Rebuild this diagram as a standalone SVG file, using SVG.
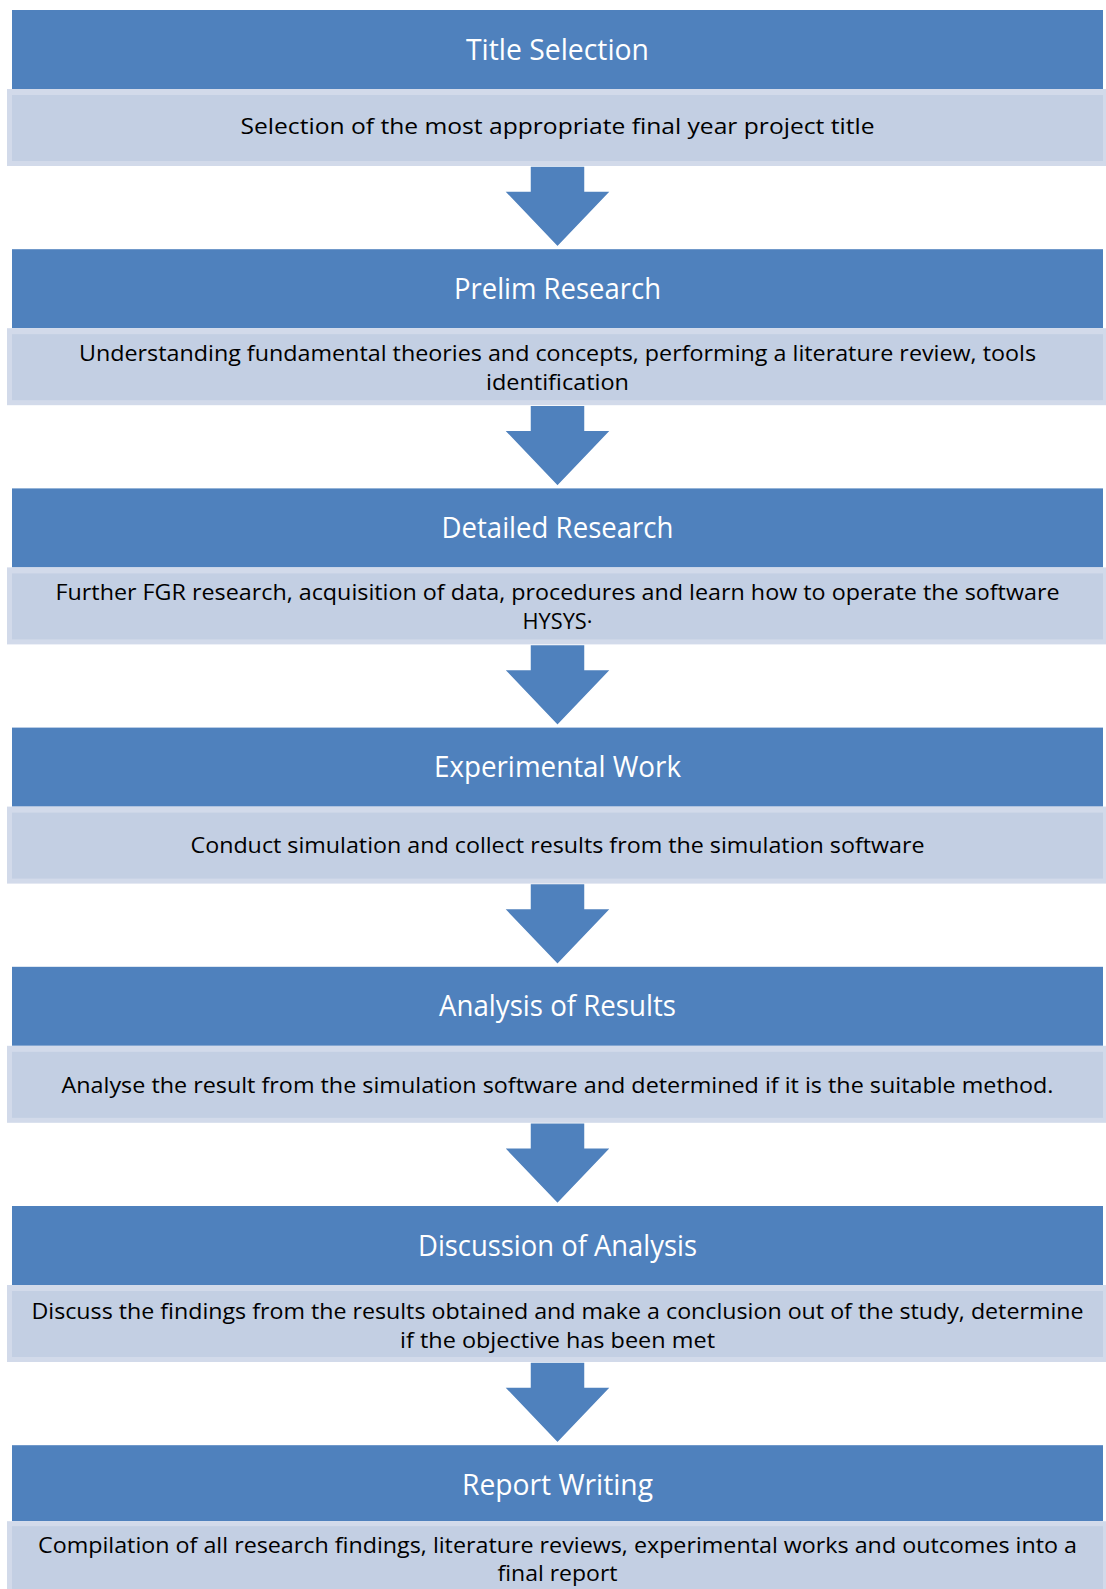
<svg xmlns="http://www.w3.org/2000/svg" width="1106" height="1589" viewBox="0 0 1106 1589">
  <style>
    .hdr { fill: #4f81bd; }
    .box-outer { fill: #d2daea; }
    .box-inner { fill: #c3cfe3; }
    .arrow { fill: #4f81bd; stroke: #ffffff; stroke-width: 1.5; stroke-linejoin: miter; }
    .ht { font-family: "Open Sans", "Liberation Sans", sans-serif; font-size: 29.5px; fill: #ffffff; text-anchor: middle; }
    .bt { font-family: "Open Sans", "Liberation Sans", sans-serif; font-size: 22.5px; fill: #000000; text-anchor: middle; }
  </style>
  <rect width="1106" height="1589" fill="#ffffff"/>

  <!-- arrows between stages -->
  <g id="connectors">
    <path class="arrow" d="M530,166 H585 V191 H611 L557.5,247 L504,191 H530 Z"/>
    <path class="arrow" d="M530,405.2 H585 V430.2 H611 L557.5,486.2 L504,430.2 H530 Z"/>
    <path class="arrow" d="M530,644.4 H585 V669.4 H611 L557.5,725.4 L504,669.4 H530 Z"/>
    <path class="arrow" d="M530,883.6 H585 V908.6 H611 L557.5,964.6 L504,908.6 H530 Z"/>
    <path class="arrow" d="M530,1122.8 H585 V1147.8 H611 L557.5,1203.8 L504,1147.8 H530 Z"/>
    <path class="arrow" d="M530,1362 H585 V1387 H611 L557.5,1443 L504,1387 H530 Z"/>
  </g>

  <g id="title-selection">
    <rect class="hdr" x="12" y="10" width="1091" height="79"/>
    <rect class="box-outer" x="7" y="89" width="1099" height="77"/>
    <rect class="box-inner" x="12" y="95" width="1091" height="66"/>
    <text class="ht" x="557.5" y="59.5" textLength="183" lengthAdjust="spacingAndGlyphs">Title Selection</text>
    <text class="bt" x="557.5" y="134" textLength="634" lengthAdjust="spacingAndGlyphs">Selection of the most appropriate final year project title</text>
  </g>

  <g id="prelim-research">
    <rect class="hdr" x="12" y="249.2" width="1091" height="79"/>
    <rect class="box-outer" x="7" y="328.2" width="1099" height="77"/>
    <rect class="box-inner" x="12" y="334.2" width="1091" height="66"/>
    <text class="ht" x="557.5" y="298.7" textLength="207" lengthAdjust="spacingAndGlyphs">Prelim Research</text>
    <text class="bt" x="557.5" y="360.5" textLength="957" lengthAdjust="spacingAndGlyphs">Understanding fundamental theories and concepts, performing a literature review, tools</text>
    <text class="bt" x="557.5" y="389.7" textLength="143" lengthAdjust="spacingAndGlyphs">identification</text>
  </g>

  <g id="detailed-research">
    <rect class="hdr" x="12" y="488.4" width="1091" height="79"/>
    <rect class="box-outer" x="7" y="567.4" width="1099" height="77"/>
    <rect class="box-inner" x="12" y="573.4" width="1091" height="66"/>
    <text class="ht" x="557.5" y="537.9" textLength="232" lengthAdjust="spacingAndGlyphs">Detailed Research</text>
    <text class="bt" x="557.5" y="600.1" textLength="1004" lengthAdjust="spacingAndGlyphs">Further FGR research, acquisition of data, procedures and learn how to operate the software</text>
    <text class="bt" x="557.5" y="628.9" textLength="70" lengthAdjust="spacingAndGlyphs">HYSYS·</text>
  </g>

  <g id="experimental-work">
    <rect class="hdr" x="12" y="727.6" width="1091" height="79"/>
    <rect class="box-outer" x="7" y="806.6" width="1099" height="77"/>
    <rect class="box-inner" x="12" y="812.6" width="1091" height="66"/>
    <text class="ht" x="557.5" y="777.1" textLength="247" lengthAdjust="spacingAndGlyphs">Experimental Work</text>
    <text class="bt" x="557.5" y="853" textLength="734" lengthAdjust="spacingAndGlyphs">Conduct simulation and collect results from the simulation software</text>
  </g>

  <g id="analysis-of-results">
    <rect class="hdr" x="12" y="966.8" width="1091" height="79"/>
    <rect class="box-outer" x="7" y="1045.8" width="1099" height="77"/>
    <rect class="box-inner" x="12" y="1051.8" width="1091" height="66"/>
    <text class="ht" x="557.5" y="1016.3" textLength="237" lengthAdjust="spacingAndGlyphs">Analysis of Results</text>
    <text class="bt" x="557.5" y="1093" textLength="992" lengthAdjust="spacingAndGlyphs">Analyse the result from the simulation software and determined if it is the suitable method.</text>
  </g>

  <g id="discussion-of-analysis">
    <rect class="hdr" x="12" y="1206" width="1091" height="79"/>
    <rect class="box-outer" x="7" y="1285" width="1099" height="77"/>
    <rect class="box-inner" x="12" y="1291" width="1091" height="66"/>
    <text class="ht" x="557.5" y="1255.5" textLength="279" lengthAdjust="spacingAndGlyphs">Discussion of Analysis</text>
    <text class="bt" x="557.5" y="1318.5" textLength="1052" lengthAdjust="spacingAndGlyphs">Discuss the findings from the results obtained and make a conclusion out of the study, determine</text>
    <text class="bt" x="557.5" y="1347.5" textLength="315" lengthAdjust="spacingAndGlyphs">if the objective has been met</text>
  </g>

  <g id="report-writing">
    <rect class="hdr" x="12" y="1445.2" width="1091" height="76"/>
    <rect class="box-outer" x="7" y="1521.2" width="1099" height="77"/>
    <rect class="box-inner" x="12" y="1526.2" width="1091" height="66"/>
    <text class="ht" x="557.5" y="1494.5" textLength="191" lengthAdjust="spacingAndGlyphs">Report Writing</text>
    <text class="bt" x="557.5" y="1553" textLength="1039" lengthAdjust="spacingAndGlyphs">Compilation of all research findings, literature reviews, experimental works and outcomes into a</text>
    <text class="bt" x="557.5" y="1581" textLength="120" lengthAdjust="spacingAndGlyphs">final report</text>
  </g>
</svg>
